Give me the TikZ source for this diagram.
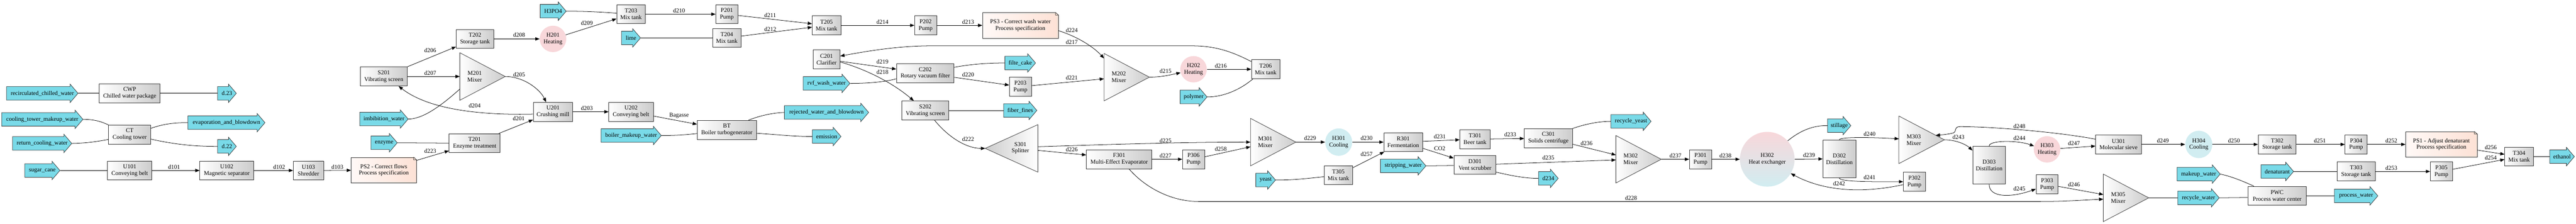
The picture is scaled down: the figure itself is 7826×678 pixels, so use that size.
\documentclass[tikz,border=0pt]{standalone}
\usepackage{fontspec}
\setmainfont{Liberation Serif}
\usetikzlibrary{arrows.meta,calc,shapes.geometric}
\definecolor{feedc}{HTML}{79DAE8}
\definecolor{heatc}{HTML}{F8D7DA}
\definecolor{coolc}{HTML}{D1EDF1}
\definecolor{notel}{HTML}{FFF9F7}
\definecolor{noter}{HTML}{FDE1D5}
\definecolor{boxr}{HTML}{CCCCCC}
\definecolor{edgec}{HTML}{333333}
\newcommand\diagfont{\fontsize{9}{10}\selectfont}
\tikzset{
  wd/.style={minimum width={#1*0.5pt}},
  unitbox/.style={rectangle, draw=edgec, line width=0.6pt, left color=white, right color=boxr,
    minimum height=28.75pt, inner sep=0pt, align=center, font=\diagfont},
  tallbox/.style={minimum height=57.5pt},
  notebox/.style={rectangle, draw=edgec, line width=0.6pt, left color=notel, right color=noter,
    minimum height=38.75pt, inner sep=0pt, align=center, font=\diagfont},
  heatell/.style={ellipse, fill=heatc, minimum width=40pt, minimum height=40pt, inner sep=0pt, align=center, font=\diagfont},
  coolell/.style={ellipse, fill=coolc, minimum width=41pt, minimum height=41.5pt, inner sep=0pt, align=center, font=\diagfont},
  hxcirc/.style={circle, top color=heatc, bottom color=coolc, minimum size=83pt, inner sep=0pt, align=center, font=\diagfont},
  feedshape/.style={fill=feedc, draw=edgec, line width=0.6pt},
  feedtext/.style={rectangle, inner sep=0pt, minimum height=20.5pt, font=\diagfont},
  mixshape/.style={draw=edgec, line width=0.6pt, left color=white, right color=boxr},
  splitshape/.style={draw=edgec, line width=0.6pt, left color=boxr, right color=white},
  trilabel/.style={inner sep=0pt, align=center, font=\diagfont},
  elabel/.style={inner sep=0pt, font=\diagfont},
  flowarrow/.style={draw=black, line width=0.6pt, -{Triangle[length=6.5pt,width=5pt]}},
  feedline/.style={draw=black, line width=0.6pt}
}
% feed/product arrow: name, left x, right x, centre y, text
\newcommand\feed[5]{%
  \path[feedshape] (#2,#4-20.5) -- (#3-24,#4-20.5) -- (#3-24,#4-28) -- (#3,#4) -- (#3-24,#4+28) -- (#3-24,#4+20.5) -- (#2,#4+20.5) -- cycle;
  \node[feedtext, minimum width={(#3-#2)*0.5pt}] (#1) at ({(#2+#3)/2},#4) {#5};}
% mixer triangle: name, base x, centre y, text
\newcommand\mixer[4]{%
  \path[mixshape] (#2,#3-72) -- (#2+138,#3) -- (#2,#3+72) -- cycle;
  \coordinate (#1-b) at (#2,#3);
  \coordinate (#1-tip) at (#2+138,#3);
  \coordinate (#1-top) at (#2,#3-72);
  \node[trilabel] (#1) at (#2+45,#3) {#4};}
% folded corner of a note
\newcommand\fold[1]{%
  \fill[white] ($(#1.north east)+(-9,-1)$) -- ($(#1.north east)+(1,-1)$) -- ($(#1.north east)+(1,8)$) -- cycle;
  \draw[edgec, line width=0.6pt] ($(#1.north east)+(-9,0)$) -- ($(#1.north east)+(0,8)$)
    ($(#1.north east)+(-9,0)$) -- ($(#1.north east)+(-9,8)$) -- ($(#1.north east)+(0,8)$);}
\begin{document}
\begin{tikzpicture}[x=0.5pt,y=-0.5pt]
\fill[white] (0,0) rectangle (7826,678);
\useasboundingbox (0,0) rectangle (7826,678);

% ---------- feeds and products ----------
\feed{rcw}{20}{237}{283}{recirculated\_chilled\_water}
\feed{d23}{661}{718}{283}{d.23}
\feed{ctmw}{5}{252}{362}{cooling\_tower\_makeup\_water}
\feed{evap}{571}{805}{372}{evaporation\_and\_blowdown}
\feed{rtcw}{38}{218}{435}{return\_cooling\_water}
\feed{d22}{661}{718}{444}{d.22}
\feed{sc}{75}{182}{517}{sugar\_cane}
\feed{imb}{1093}{1240}{361}{imbibition\_water}
\feed{enz}{1127}{1207}{433}{enzyme}
\feed{hpo}{1641}{1720}{34}{H3PO4}
\feed{lime}{1888}{1946}{115}{lime}
\feed{bmw}{1826}{2009}{411}{boiler\_makeup\_water}
\feed{rej}{2383}{2639}{341}{rejected\_water\_and\_blowdown}
\feed{emis}{2468}{2555}{414}{emission}
\feed{rvf}{2440}{2582}{253}{rvf\_wash\_water}
\feed{fc}{3053}{3146}{191}{filte\_cake}
\feed{ff}{3049}{3150}{335}{fiber\_fines}
\feed{pol}{3585}{3667}{294}{polymer}
\feed{yeast}{3815}{3875}{546}{yeast}
\feed{strip}{4194}{4332}{503}{stripping\_water}
\feed{d234}{4674}{4734}{541}{d234}
\feed{ry}{4894}{5016}{368}{recycle\_yeast}
\feed{still}{5552}{5623}{381}{stillage}
\feed{mw}{6614}{6745}{528}{makeup\_water}
\feed{rw}{6616}{6742}{600}{recycle\_water}
\feed{den}{6869}{6968}{520}{denaturant}
\feed{pw}{7092}{7224}{594}{process\_water}
\feed{eth}{7746}{7821}{475}{ethanol}

% ---------- units ----------
\node[unitbox,wd=185] (CWP) at (394,283) {CWP\\Chilled water package};
\node[unitbox,wd=128] (CT) at (394,408) {CT\\Cooling tower};
\node[unitbox,wd=135] (U101) at (394,517) {U101\\Conveying belt};
\node[unitbox,wd=164] (U102) at (689,517) {U102\\Magnetic separator};
\node[unitbox,wd=92] (U103) at (937,517) {U103\\Shredder};
\node[notebox,wd=198] (PS2) at (1166,516) {PS2 - Correct flows\\Process specification};
\fold{PS2}
\node[unitbox,wd=143] (S201) at (1166,232) {S201\\Vibrating screen};
\node[unitbox,wd=114] (T202) at (1443,118) {T202\\Storage tank};
\node[unitbox,wd=155] (T201) at (1442,434) {T201\\Enzyme treatment};
\mixer{M201}{1397}{232}{M201\\Mixer}
\node[heatell] (H201) at (1680,118) {H201\\Heating};
\node[unitbox,wd=120] (U201) at (1680,339) {U201\\Crushing mill};
\node[unitbox,wd=87] (T203) at (1917,43) {T203\\Mix tank};
\node[unitbox,wd=135] (U202) at (1917,339) {U202\\Conveying belt};
\node[unitbox,wd=67] (P201) at (2208,43) {P201\\Pump};
\node[unitbox,wd=87] (T204) at (2208,115) {T204\\Mix tank};
\node[unitbox,wd=180] (BT) at (2208,394) {BT\\Boiler turbogenerator};
\node[unitbox,wd=87] (T205) at (2511,77) {T205\\Mix tank};
\node[unitbox,wd=82] (C201) at (2511,180) {C201\\Clarifier};
\node[unitbox,wd=67] (P202) at (2812,77) {P202\\Pump};
\node[unitbox,wd=175] (C202) at (2811,222) {C202\\Rotary vacuum filter};
\node[unitbox,wd=143] (S202) at (2811,335) {S202\\Vibrating screen};
\node[notebox,wd=230] (PS3) at (3100,77) {PS3 - Correct wash water\\Process specification};
\fold{PS3}
\node[unitbox,wd=67] (P203) at (3100,263) {P203\\Pump};
\path[splitshape] (2993,450) -- (3153,378) -- (3153,522) -- cycle;
\coordinate (S301-tip) at (2993,450);
\coordinate (S301-b) at (3153,450);
\node[trilabel] (S301) at (3100,449) {S301\\Splitter};
\mixer{M202}{3354}{234}{M202\\Mixer}
\node[heatell] (H202) at (3626,210) {H202\\Heating};
\node[unitbox,wd=86] (T206) at (3845,210) {T206\\Mix tank};
\node[unitbox,wd=199] (F301) at (3400,483) {F301\\Multi-Effect Evaporator};
\node[unitbox,wd=67] (P306) at (3626,483) {P306\\Pump};
\mixer{M301}{3799}{431}{M301\\Mixer}
\node[coolell] (H301) at (4067,431) {H301\\Cooling};
\node[unitbox,wd=87] (T305) at (4066,531) {T305\\Mix tank};
\node[unitbox,wd=118] (R301) at (4263,431) {R301\\Fermentation};
\node[unitbox,wd=92] (T301) at (4481,422) {T301\\Beer tank};
\node[unitbox,wd=128] (D301) at (4481,500) {D301\\Vent scrubber};
\node[unitbox,wd=146] (C301) at (4704,419) {C301\\Solids centrifuge};
\mixer{M302}{4909}{483}{M302\\Mixer}
\node[unitbox,wd=67] (P301) at (5166,483) {P301\\Pump};
\node[hxcirc] (H302) at (5369,483) {H302\\Heat exchanger};
\node[unitbox,tallbox,wd=100] (D302) at (5588,482) {D302\\Distillation};
\mixer{M303}{5769}{424}{M303\\Mixer}
\node[unitbox,wd=67] (P302) at (5816,551) {P302\\Pump};
\node[unitbox,tallbox,wd=100] (D303) at (6043,501) {D303\\Distillation};
\node[heatell] (H303) at (6219,453) {H303\\Heating};
\node[unitbox,wd=67] (P303) at (6219,559) {P303\\Pump};
\node[unitbox,wd=139] (U301) at (6436,438) {U301\\Molecular sieve};
\mixer{M305}{6390}{600}{M305\\Mixer}
\node[coolell] (H304) at (6680,438) {H304\\Cooling};
\node[unitbox,wd=115] (T302) at (6918,438) {T302\\Storage tank};
\node[unitbox,wd=178] (PWC) at (6918,594) {PWC\\Process water center};
\node[unitbox,wd=67] (P304) at (7158,438) {P304\\Pump};
\node[unitbox,wd=115] (T303) at (7158,520) {T303\\Storage tank};
\node[notebox,wd=217] (PS1) at (7417,438) {PS1 - Adjust denaturant\\Process specification};
\fold{PS1}
\node[unitbox,wd=67] (P305) at (7417,520) {P305\\Pump};
\node[unitbox,wd=87] (T304) at (7653,475) {T304\\Mix tank};

% ---------- connectors ----------
\draw[feedline] (rcw.east) -- (CWP.west);
\draw[feedline] (CWP.east) -- (d23.west);
\draw[feedline] (ctmw.east) .. controls (290,362) and (310,370) .. (CT.north west);
\draw[feedline] (rtcw.east) .. controls (270,434) and (300,428) .. ($(CT.west)+(0,15)$);
\draw[feedline] ($(CT.east)+(0,-19)$) .. controls (500,375) and (530,372) .. (evap.west);
\draw[feedline] ($(CT.east)+(0,14)$) .. controls (540,440) and (600,444) .. (d22.west);
\draw[feedline] (sc.east) -- (U101.west);
\draw[flowarrow] (U101) -- (U102);
\draw[flowarrow] (U102) -- (U103);
\draw[flowarrow] (U103) -- (PS2);
\draw[flowarrow] (PS2) -- (T201);
\draw[feedline] (enz.east) -- (T201.west);
\draw[flowarrow] (T201) -- (U201);
\draw[feedline] (imb.east) .. controls (1280,361) and (1330,330) .. ($(M201-b)+(0,38)$);
\draw[flowarrow] ($(U201.west)+(0,7)$) .. controls (1450,350) and (1300,330) .. ($(S201.south)+(45,0)$);
\draw[flowarrow] (M201-tip) .. controls (1590,232) and (1640,270) .. ($(U201.north)+(-21,0)$);
\draw[flowarrow] (S201) -- (T202);
\draw[flowarrow] (S201.east) -- (M201-b);
\draw[flowarrow] (T202.east) -- (H201.west);
\draw[flowarrow] (H201) -- (T203);
\draw[feedline] (hpo.east) .. controls (1790,34) and (1830,37) .. ($(T203.west)+(0,-3)$);
\draw[flowarrow] (T203) -- (P201);
\draw[feedline] (lime.east) -- (T204.west);
\draw[flowarrow] (P201) -- (T205);
\draw[flowarrow] (T204) -- (T205);
\draw[flowarrow] (U201) -- (U202);
\draw[flowarrow] (U202) -- (BT);
\draw[feedline] (bmw.east) .. controls (2060,411) and (2090,408) .. ($(BT.west)+(0,11)$);
\draw[feedline] ($(BT.north east)+(-25,0)$) .. controls (2310,350) and (2350,342) .. (rej.west);
\draw[feedline] ($(BT.east)+(0,10)$) .. controls (2380,410) and (2420,414) .. (emis.west);
\draw[flowarrow] (T205) -- (P202);
\draw[flowarrow] (P202) -- (PS3);
\draw[flowarrow] ($(PS3.east)+(0,16)$) .. controls (3270,110) and (3320,140) .. ($(M202-b)+(0,-57)$);
\draw[flowarrow] ($(T206.north west)+(0,6)$) .. controls (3740,155) and (3690,139) .. (3620,139) -- (2830,139) .. controls (2720,139) and (2620,158) .. ($(C201.east)+(0,-10)$);
\draw[flowarrow] (C201) -- (C202);
\draw[flowarrow] ($(C201.east)+(0,8)$) .. controls (2630,210) and (2710,250) .. ($(S202.north)+(-35,0)$);
\draw[feedline] (rvf.east) .. controls (2640,253) and (2690,248) .. ($(C202.west)+(0,17)$);
\draw[feedline] ($(C202.east)+(0,-18)$) .. controls (2960,193) and (3010,191) .. (fc.west);
\draw[flowarrow] (C202) -- (P203);
\draw[flowarrow] (P203) -- ($(M202-b)+(0,5)$);
\draw[feedline] (S202.east) -- (ff.west);
\draw[flowarrow] ($(S202.south)+(28,0)$) .. controls (2880,415) and (2935,450) .. (S301-tip);
\draw[flowarrow] (M202-tip) .. controls (3530,234) and (3560,226) .. (H202.195);
\draw[flowarrow] (H202.east) -- (T206.west);
\draw[feedline] (pol.east) .. controls (3720,294) and (3770,270) .. ($(T206.south west)+(5,0)$);
\draw[flowarrow] ($(S301-b)+(0,-5)$) .. controls (3400,437) and (3600,431) .. (M301-b);
\draw[flowarrow] ($(S301-b)+(0,6)$) -- ($(F301.west)+(0,-13)$);
\draw[flowarrow] (F301) -- (P306);
\draw[flowarrow] (P306) -- ($(M301-b)+(0,14)$);
\draw[flowarrow] (M301-tip) -- (H301.west);
\draw[flowarrow] (H301) -- (R301);
\draw[feedline] (yeast.east) .. controls (3940,546) and (3980,540) .. ($(T305.west)+(0,5)$);
\draw[flowarrow] (T305) -- (R301);
\draw[flowarrow] (R301) -- (T301);
\draw[flowarrow] (R301) -- (D301);
\draw[feedline] (strip.east) -- ($(D301.west)+(0,2)$);
\draw[feedline] ($(D301.east)+(0,22)$) .. controls (4600,535) and (4640,541) .. (d234.west);
\draw[flowarrow] (T301) -- (C301);
\draw[flowarrow] ($(D301.east)+(0,-2)$) -- ($(M302-b)+(0,2)$);
\draw[flowarrow] (C301) -- ($(M302-b)+(0,-13)$);
\draw[feedline] (C301.north east) .. controls (4820,375) and (4860,368) .. (ry.west);
\draw[flowarrow] (M302-tip) -- (P301.west);
\draw[flowarrow] (P301.east) -- (H302.west);
\draw[flowarrow] (H302.east) -- (D302.west);
\draw[feedline] (H302.42) .. controls (5470,395) and (5510,380) .. (still.west);
\draw[flowarrow] ($(P302.west)+(0,9)$) .. controls (5690,580) and (5560,590) .. (H302.-31);
\draw[flowarrow] (D302.north) .. controls (5588,414) and (5700,417) .. ($(M303-b)+(0,-3)$);
\draw[flowarrow] (D302.south) .. controls (5588,552) and (5700,551) .. (P302.west);
\draw[flowarrow] (M303-tip) .. controls (5945,424) and (5975,440) .. ($(D303.north west)+(0,13.5)$);
\draw[flowarrow] (D303.north) .. controls (6043,425) and (6130,425) .. (H303.166);
\draw[flowarrow] (D303.south) .. controls (6043,600) and (6110,600) .. ($(P303.west)+(0,14)$);
\draw[flowarrow] ($(U301.west)+(0,-16)$) .. controls (6250,400) and (6050,384) .. (5955,384) .. controls (5935,384) and (5945,398) .. (5935,403) .. controls (5920,407) and (5900,409) .. ($(M303-top)!0.81!(M303-tip)$);
\draw[flowarrow] (H303) -- ($(U301.west)+(0,5)$);
\draw[flowarrow] (P303) -- ($(M305-b)+(0,-10)$);
\draw[flowarrow] ($(F301.south)+(30,0)$) .. controls (3480,570) and (3560,611) .. (3640,611) -- (6200,611) .. controls (6280,611) and (6340,606) .. ($(M305-b)+(0,4)$);
\draw[feedline] (M305-tip) -- (rw.west);
\draw[feedline] (rw.east) -- ($(PWC.west)+(0,5)$);
\draw[feedline] (mw.east) .. controls (6780,535) and (6820,552) .. ($(PWC.north west)+(19,0)$);
\draw[feedline] (PWC.east) -- (pw.west);
\draw[flowarrow] (U301.east) -- (H304.west);
\draw[flowarrow] (H304.east) -- (T302.west);
\draw[flowarrow] (T302.east) -- (P304.west);
\draw[flowarrow] (P304.east) -- (PS1.west);
\draw[feedline] (den.east) -- (T303.west);
\draw[flowarrow] (T303.east) -- (P305.west);
\draw[flowarrow] (PS1) -- (T304);
\draw[flowarrow] (P305) -- (T304);
\draw[feedline] (T304.east) -- (eth.west);

% ---------- connector labels ----------
\node[elabel] (l101) at (529,506) {d101};
\node[elabel] (l102) at (848,506) {d102};
\node[elabel] (l103) at (1025,506) {d103};
\node[elabel] (l223) at (1307,458) {d223};
\node[elabel] (l201) at (1576,360) {d201};
\node[elabel] (l204) at (1442,320) {d204};
\node[elabel] (l205) at (1577,226) {d205};
\node[elabel] (l206) at (1307,153) {d206};
\node[elabel] (l207) at (1307,222) {d207};
\node[elabel] (l208) at (1577,106) {d208};
\node[elabel] (l209) at (1783,69) {d209};
\node[elabel] (l210) at (2063,32) {d210};
\node[elabel] (l211) at (2340,46) {d211};
\node[elabel] (l212) at (2340,88) {d212};
\node[elabel] (l203) at (1783,328) {d203};
\node[elabel] (lbag) at (2063,350) {Bagasse};
\node[elabel] (l214) at (2681,67) {d214};
\node[elabel] (l213) at (2941,67) {d213};
\node[elabel] (l224) at (3256,91) {d224};
\node[elabel] (l217) at (3256,128) {d217};
\node[elabel] (l219) at (2681,187) {d219};
\node[elabel] (l218) at (2681,218) {d218};
\node[elabel] (l220) at (2941,227) {d220};
\node[elabel] (l221) at (3256,235) {d221};
\node[elabel] (l222) at (2941,422) {d222};
\node[elabel] (l215) at (3541,215) {d215};
\node[elabel] (l216) at (3709,199) {d216};
\node[elabel] (l225) at (3541,426) {d225};
\node[elabel] (l226) at (3256,454) {d226};
\node[elabel] (l227) at (3541,472) {d227};
\node[elabel] (l258) at (3709,451) {d258};
\node[elabel] (l229) at (3980,419) {d229};
\node[elabel] (l230) at (4152,419) {d230};
\node[elabel] (l257) at (4152,467) {d257};
\node[elabel] (l231) at (4374,414) {d231};
\node[elabel] (lco2) at (4374,450) {CO2};
\node[elabel] (l233) at (4588,408) {d233};
\node[elabel] (l235) at (4704,478) {d235};
\node[elabel] (l236) at (4820,434) {d236};
\node[elabel] (l237) at (5090,472) {d237};
\node[elabel] (l238) at (5242,472) {d238};
\node[elabel] (l228) at (4955,600) {d228};
\node[elabel] (l239) at (5496,470) {d239};
\node[elabel] (l242) at (5587,556) {d242};
\node[elabel] (l240) at (5680,406) {d240};
\node[elabel] (l241) at (5680,538) {d241};
\node[elabel] (l243) at (5950,416) {d243};
\node[elabel] (l244) at (6135,419) {d244};
\node[elabel] (l245) at (6135,572) {d245};
\node[elabel] (l248) at (6135,383) {d248};
\node[elabel] (l247) at (6301,434) {d247};
\node[elabel] (l246) at (6301,560) {d246};
\node[elabel] (l249) at (6571,427) {d249};
\node[elabel] (l250) at (6787,427) {d250};
\node[elabel] (l251) at (7048,427) {d251};
\node[elabel] (l252) at (7265,427) {d252};
\node[elabel] (l253) at (7265,510) {d253};
\node[elabel] (l256) at (7567,447) {d256};
\node[elabel] (l254) at (7567,478) {d254};
\end{tikzpicture}
\end{document}
